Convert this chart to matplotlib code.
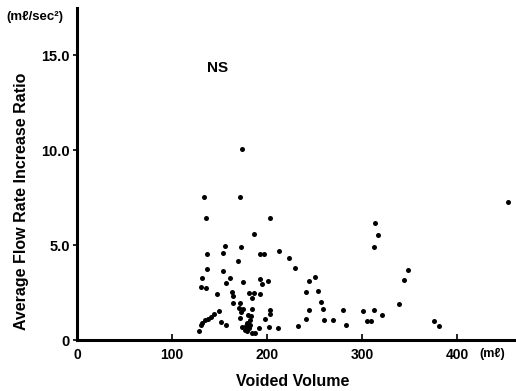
import matplotlib.pyplot as plt

plt.rcParams['font.family'] = ['Liberation Sans', 'DejaVu Sans']
plt.rcParams['font.weight'] = 'bold'

# voided volume (ml) and average flow rate increase ratio (ml/sec^2)
voided_volume = [
    173.7, 133.7, 171.3, 136.1, 203.5, 186.3, 156.1, 172.9, 212.6, 136.5,
    154.0, 192.3, 196.8, 223.2, 169.5, 136.5, 153.4, 229.8, 131.3, 161.1,
    156.8, 174.4, 192.6, 201.1, 194.7, 130.8, 135.8, 147.4, 163.5, 164.5,
    180.7, 186.0, 192.9, 184.5, 164.2, 171.6, 183.9, 149.2, 144.2, 140.7,
    137.6, 135.1, 131.9, 130.5, 128.4, 203.5, 203.5, 197.6, 183.2, 151.3,
    156.5, 171.6, 170.8, 172.6, 180.3, 182.1, 178.9, 174.0, 177.9, 176.5,
    179.3, 181.4, 183.9, 187.4, 191.3, 202.4, 211.3, 232.9, 174.7, 182.0,
    313.7, 316.5, 312.3, 348.7, 344.5, 338.6, 250.5, 243.9, 241.1, 253.4,
    257.2, 243.9, 259.3, 280.3, 301.1, 312.6, 240.7, 260.3, 269.2, 304.9,
    309.5, 321.1, 283.5, 453.4, 375.8, 381.1,
]
flow_ratio = [
    10.05, 7.53, 7.56, 6.42, 6.41, 5.58, 4.95, 4.89, 4.67, 4.53,
    4.56, 4.54, 4.54, 4.30, 4.19, 3.75, 3.63, 3.79, 3.28, 3.25,
    3.00, 3.04, 3.19, 3.10, 2.93, 2.77, 2.72, 2.42, 2.54, 2.33,
    2.47, 2.49, 2.44, 2.23, 1.93, 1.96, 1.63, 1.54, 1.37, 1.23,
    1.12, 1.05, 0.91, 0.79, 0.46, 1.58, 1.37, 1.12, 1.28, 0.93,
    0.81, 1.16, 1.70, 1.49, 1.32, 1.05, 0.89, 0.67, 0.74, 0.53,
    0.47, 0.63, 0.38, 0.35, 0.63, 0.67, 0.65, 0.75, 1.63, 0.79,
    6.19, 5.51, 4.91, 3.70, 3.14, 1.88, 3.30, 3.09, 2.53, 2.58,
    2.00, 1.56, 1.63, 1.58, 1.53, 1.58, 1.09, 1.05, 1.07, 0.98,
    0.98, 1.30, 0.81, 7.28, 1.00, 0.75,
]

x_ticks = [0, 100, 200, 300, 400]
x_labels = ['0', '100', '200', '300', '400']
y_ticks = [0, 5, 10, 15]
y_labels = ['0', '5.0', '10.0', '15.0']

fig = plt.figure(figsize=(5.16, 3.91), dpi=100)
ax = fig.add_axes([77/516, 51/391, 439/516, 332/391])

ax.plot(voided_volume, flow_ratio, 'o', color='black', markersize=3.6, markeredgewidth=0)

ax.set_xlim(0, 462)
ax.set_ylim(0, 17.5)

for side in ['top', 'right']:
    ax.spines[side].set_visible(False)
ax.spines['left'].set_linewidth(2.2)
ax.spines['bottom'].set_linewidth(2.2)

ax.set_xticks(x_ticks)
ax.set_xticklabels(x_labels)
ax.set_yticks(y_ticks)
ax.set_yticklabels(y_labels)
ax.tick_params(axis='x', direction='in', length=4, width=1.2, pad=6, labelsize=10)
ax.tick_params(axis='y', direction='out', length=3, width=1.2, pad=2, labelsize=10.5)

fig.text(22/516, 1 - 201/391, 'Average Flow Rate Increase Ratio', rotation=90,
         ha='center', va='center', fontsize=11.5)
fig.text(293/516, 1 - 381/391, 'Voided Volume', ha='center', va='center', fontsize=11.5)
fig.text(6/516, 1 - 17/391, '(m\u2113/sec\u00b2)', ha='left', va='center', fontsize=9.5)
fig.text(492/516, 1 - 354/391, '(m\u2113)', ha='center', va='center', fontsize=9)
fig.text(218/516, 1 - 68/391, 'NS', ha='center', va='center', fontsize=11)

fig.savefig('out.png', dpi=100)
